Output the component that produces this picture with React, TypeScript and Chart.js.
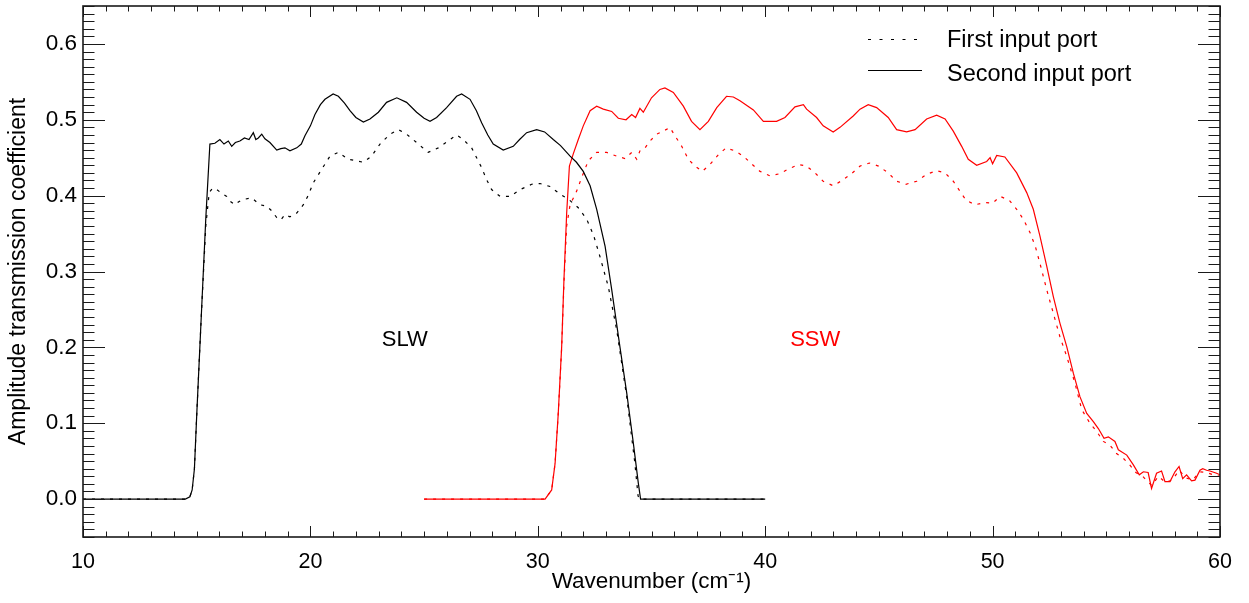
import React, { useEffect, useRef } from "react";
import { Chart, registerables } from "chart.js";

Chart.register(...registerables);

const FONT = "'Liberation Sans', Arial, Helvetica, sans-serif";

// SLW, second input port (solid black)
const slwSecondX = [
  10, 12, 14, 14.5, 14.7, 14.8, 14.9, 15.0, 15.2, 15.4,
  15.58, 15.8, 16.02, 16.2, 16.39, 16.54, 16.7, 16.9, 17.1, 17.3,
  17.49, 17.6, 17.71, 17.86, 18.0, 18.22, 18.52, 18.7, 18.88, 19.1,
  19.4, 19.6, 19.76, 20.0, 20.2, 20.44, 20.64, 21.0, 21.23, 21.5,
  21.74, 22.0, 22.33, 22.62, 22.99, 23.35, 23.8, 24.23, 24.67, 25.0,
  25.26, 25.55, 25.99, 26.43, 26.65, 27.02, 27.3, 27.53, 27.8, 28.04,
  28.48, 28.92, 29.2, 29.51, 29.95, 30.3, 30.68, 31.0, 31.42, 31.7,
  32.0, 32.3, 32.59, 32.96, 33.25, 33.61, 33.91, 34.2, 34.42, 34.52,
  36, 38, 40,
];
const slwSecondY = [
  0, 0, 0, 0, 0.003, 0.012, 0.04, 0.11, 0.24, 0.37,
  0.468, 0.469, 0.474, 0.468, 0.472, 0.465, 0.47, 0.472, 0.476, 0.474,
  0.483, 0.474, 0.476, 0.481, 0.475, 0.47, 0.46, 0.462, 0.463, 0.459,
  0.463, 0.468, 0.479, 0.492, 0.507, 0.52, 0.527, 0.534, 0.531, 0.522,
  0.512, 0.503, 0.497, 0.501, 0.51, 0.523, 0.529, 0.523, 0.51, 0.502,
  0.498, 0.503, 0.516, 0.531, 0.534, 0.527, 0.512, 0.496, 0.48, 0.468,
  0.46, 0.465, 0.474, 0.483, 0.487, 0.484, 0.474, 0.466, 0.452, 0.444,
  0.432, 0.413, 0.382, 0.333, 0.276, 0.201, 0.14, 0.074, 0.021, 0,
  0, 0, 0,
];

// SLW, first input port (dotted black)
const slwFirstX = [
  10, 12, 14, 14.5, 14.7, 14.8, 14.9, 15.0, 15.2, 15.4,
  15.55, 15.7, 15.88, 16.1, 16.32, 16.5, 16.68, 16.85, 17.05, 17.42,
  17.78, 18.08, 18.3, 18.52, 18.7, 18.88, 19.1, 19.4, 19.69, 19.9,
  20.13, 20.5, 20.86, 21.23, 21.67, 22.0, 22.33, 22.69, 23.06, 23.5,
  23.87, 24.23, 24.67, 25.18, 25.62, 26.06, 26.43, 26.72, 27.09, 27.31,
  27.53, 27.75, 27.97, 28.34, 28.78, 29.22, 29.73, 30.1, 30.54, 30.98,
  31.4, 31.78, 32.15, 32.45, 32.73, 33.1, 33.47, 33.91, 34.27, 34.41,
  34.5, 36, 38, 40,
];
const slwFirstY = [
  0, 0, 0, 0, 0.003, 0.012, 0.04, 0.11, 0.24, 0.36,
  0.404, 0.41, 0.408, 0.403, 0.399, 0.392, 0.388, 0.392, 0.395, 0.397,
  0.388, 0.386, 0.38, 0.371, 0.368, 0.375, 0.372, 0.377, 0.388, 0.4,
  0.417, 0.435, 0.452, 0.457, 0.448, 0.446, 0.444, 0.452, 0.468, 0.481,
  0.487, 0.481, 0.47, 0.457, 0.463, 0.472, 0.48, 0.474, 0.463, 0.45,
  0.437, 0.421, 0.408, 0.399, 0.399, 0.408, 0.415, 0.416, 0.412, 0.402,
  0.394, 0.384, 0.369, 0.348, 0.32, 0.28, 0.223, 0.135, 0.047, 0.004,
  0, 0, 0, 0,
];

// SSW, second input port (solid red)
const sswSecondX = [
  25, 28, 30, 30.32, 30.61, 30.76, 30.9, 31.05, 31.15, 31.27,
  31.39, 31.56, 31.78, 32.0, 32.3, 32.59, 32.88, 33.25, 33.54, 33.88,
  34.13, 34.3, 34.49, 34.64, 35.0, 35.37, 35.59, 35.96, 36.4, 36.76,
  37.13, 37.5, 37.87, 38.3, 38.6, 38.89, 39.48, 39.92, 40.5, 40.87,
  41.31, 41.68, 41.82, 42.26, 42.55, 42.99, 43.29, 43.87, 44.17, 44.53,
  44.9, 45.41, 45.78, 46.22, 46.59, 47.1, 47.54, 47.91, 48.27, 48.64,
  48.93, 49.3, 49.74, 49.89, 50.0, 50.18, 50.54, 51.06, 51.5, 51.79,
  52.08, 52.38, 52.67, 52.96, 53.26, 53.55, 53.84, 54.14, 54.43, 54.65,
  54.9, 55.09, 55.38, 55.53, 55.9, 56.19, 56.45, 56.63, 56.84, 56.99,
  57.21, 57.43, 57.58, 57.8, 58.02, 58.2, 58.36, 58.53, 58.75, 58.9,
  59.12, 59.24, 59.41, 59.56, 59.85, 60,
];
const sswSecondY = [
  0, 0, 0, 0, 0.012, 0.047, 0.113, 0.201, 0.289, 0.377,
  0.439, 0.455, 0.474, 0.492, 0.512, 0.518, 0.514, 0.511, 0.502, 0.5,
  0.507, 0.503, 0.515, 0.51, 0.529, 0.54, 0.542, 0.536, 0.518, 0.498,
  0.487, 0.498, 0.516, 0.531, 0.53, 0.525, 0.513, 0.498, 0.498, 0.503,
  0.517, 0.52, 0.514, 0.503, 0.492, 0.484, 0.49, 0.505, 0.514, 0.52,
  0.516, 0.503, 0.487, 0.484, 0.487, 0.501, 0.506, 0.501, 0.485, 0.465,
  0.448, 0.44, 0.445, 0.45, 0.442, 0.453, 0.451, 0.43, 0.404, 0.382,
  0.347, 0.307, 0.267, 0.232, 0.201, 0.166, 0.135, 0.113, 0.102, 0.093,
  0.08, 0.082, 0.076, 0.065, 0.058, 0.045, 0.032, 0.036, 0.035, 0.014,
  0.034, 0.037, 0.023, 0.023, 0.036, 0.043, 0.027, 0.032, 0.024, 0.025,
  0.038, 0.04, 0.038, 0.037, 0.034, 0.032,
];

// SSW, first input port (dotted red)
const sswFirstX = [
  25, 28, 30, 30.32, 30.61, 30.76, 30.9, 31.05, 31.15, 31.27,
  31.42, 31.71, 31.93, 32.22, 32.59, 33.03, 33.47, 33.83, 34.13, 34.35,
  34.49, 34.67, 34.93, 35.23, 35.52, 35.81, 36.03, 36.33, 36.62, 36.91,
  37.23, 37.57, 37.94, 38.28, 38.67, 39.04, 39.4, 39.77, 40.21, 40.65,
  41.01, 41.46, 41.82, 42.19, 42.55, 42.99, 43.43, 43.8, 44.17, 44.58,
  44.98, 45.41, 45.78, 46.19, 46.66, 47.1, 47.54, 47.91, 48.27, 48.56,
  48.83, 49.23, 49.67, 50.0, 50.33, 50.73, 51.06, 51.35, 51.65, 51.88,
  52.08, 52.38, 52.67, 52.96, 53.26, 53.62, 53.92, 54.28, 54.58, 54.87,
  55.16, 55.45, 55.74, 56.03, 56.3, 56.6, 56.99, 57.3, 57.6, 57.9,
  58.2, 58.5, 58.8, 59.1, 59.4, 59.7, 60,
];
const sswFirstY = [
  0, 0, 0, 0, 0.012, 0.047, 0.113, 0.2, 0.285, 0.36,
  0.388, 0.406, 0.424, 0.446, 0.457, 0.457, 0.452, 0.449, 0.457, 0.448,
  0.459, 0.461, 0.472, 0.481, 0.485, 0.49, 0.479, 0.465, 0.448, 0.439,
  0.432, 0.441, 0.454, 0.463, 0.459, 0.452, 0.442, 0.432, 0.426, 0.429,
  0.435, 0.441, 0.439, 0.43, 0.419, 0.413, 0.421, 0.429, 0.439, 0.443,
  0.439, 0.43, 0.419, 0.415, 0.419, 0.428, 0.433, 0.43, 0.419, 0.406,
  0.394, 0.388, 0.391, 0.39, 0.399, 0.394, 0.382, 0.369, 0.351, 0.333,
  0.311, 0.276, 0.245, 0.214, 0.188, 0.153, 0.118, 0.1, 0.089, 0.076,
  0.071, 0.06, 0.054, 0.045, 0.035, 0.03, 0.018, 0.03, 0.022, 0.025,
  0.038, 0.028, 0.025, 0.036, 0.035, 0.032, 0.03,
];

const xTickValues = [10, 20, 30, 40, 50, 60];
const yTickValues = [0, 0.1, 0.2, 0.3, 0.4, 0.5, 0.6];
const legendLabels = ["First input port", "Second input port"];
const bandNames = ["SLW", "SSW"];
const bandCentersX = [24.15, 42.2];
const bandCentersY = [0.21, 0.21];
const bandColors = ["#000000", "#ff0000"];

const toPoints = (xs: number[], ys: number[]) => xs.map((x, i) => ({ x, y: ys[i] }));

const idlFrame = {
  id: "idlFrame",
  afterDraw(chart: any) {
    const { ctx, chartArea: a, scales } = chart;
    const xs = scales.x;
    const ys = scales.y;
    ctx.save();
    ctx.strokeStyle = "#1a1a1a";
    ctx.lineWidth = 1;
    ctx.beginPath();
    for (let v = 10; v <= 60; v += 1) {
      const px = Math.round(xs.getPixelForValue(v)) + 0.5;
      const len = v % 10 === 0 ? 11 : 5.5;
      ctx.moveTo(px, a.bottom);
      ctx.lineTo(px, a.bottom - len);
      ctx.moveTo(px, a.top);
      ctx.lineTo(px, a.top + len);
    }
    for (let i = -5; i <= 65; i += 1) {
      const py = Math.round(ys.getPixelForValue(i / 100)) + 0.5;
      const len = i % 10 === 0 ? 22 : 11.5;
      ctx.moveTo(a.left, py);
      ctx.lineTo(a.left + len, py);
      ctx.moveTo(a.right, py);
      ctx.lineTo(a.right - len, py);
    }
    ctx.stroke();
    ctx.lineWidth = 1.6;
    ctx.strokeRect(a.left, a.top, a.right - a.left, a.bottom - a.top);

    // legend
    ctx.lineWidth = 1.2;
    ctx.strokeStyle = "#000";
    ctx.setLineDash([3, 8.5]);
    ctx.beginPath();
    ctx.moveTo(868, 39.5);
    ctx.lineTo(922, 39.5);
    ctx.stroke();
    ctx.setLineDash([]);
    ctx.beginPath();
    ctx.moveTo(868, 70.5);
    ctx.lineTo(922, 70.5);
    ctx.stroke();
    ctx.fillStyle = "#000";
    ctx.font = `23.5px ${FONT}`;
    ctx.textAlign = "left";
    ctx.textBaseline = "alphabetic";
    ctx.fillText(legendLabels[0], 947, 46.5);
    ctx.fillText(legendLabels[1], 947, 81);

    // band labels
    ctx.font = `22px ${FONT}`;
    ctx.textAlign = "center";
    ctx.textBaseline = "middle";
    bandNames.forEach((name, i) => {
      ctx.fillStyle = bandColors[i];
      ctx.fillText(name, xs.getPixelForValue(bandCentersX[i]), ys.getPixelForValue(bandCentersY[i]));
    });
    ctx.restore();
  },
};

export default function App() {
  const ref = useRef<HTMLCanvasElement | null>(null);
  useEffect(() => {
    if (!ref.current) return;
    const lineBase = { pointRadius: 0, borderWidth: 1.2, tension: 0, fill: false };
    const chart = new Chart(ref.current, {
      type: "line",
      data: {
        datasets: [
          { ...lineBase, label: "SLW first", data: toPoints(slwFirstX, slwFirstY), borderColor: "#000", borderDash: [3, 6] },
          { ...lineBase, label: "SLW second", data: toPoints(slwSecondX, slwSecondY), borderColor: "#000" },
          { ...lineBase, label: "SSW first", data: toPoints(sswFirstX, sswFirstY), borderColor: "#ff0000", borderDash: [3, 6] },
          { ...lineBase, label: "SSW second", data: toPoints(sswSecondX, sswSecondY), borderColor: "#ff0000" },
        ],
      },
      options: {
        responsive: false,
        animation: false,
        layout: { padding: { top: 6, right: 29, left: 0, bottom: 0 } },
        plugins: { legend: { display: false }, tooltip: { enabled: false } },
        scales: {
          x: {
            type: "linear",
            min: 10,
            max: 60,
            grid: { display: false, drawTicks: false },
            border: { display: false },
            ticks: {
              font: { family: FONT, size: 21.5 },
              color: "#000",
              padding: 12,
              maxRotation: 0,
              callback: (v: any) => String(v),
            },
            afterBuildTicks: (s: any) => {
              s.ticks = xTickValues.map((v) => ({ value: v }));
            },
            afterFit: (s: any) => {
              s.height = 66;
              s.paddingLeft = 0;
              s.paddingRight = 0;
            },
            title: {
              display: true,
              text: "Wavenumber (cm⁻¹)",
              font: { family: FONT, size: 22.5 },
              color: "#000",
              padding: { top: 8, bottom: 8 },
            },
          },
          y: {
            type: "linear",
            min: -0.05,
            max: 0.65,
            grid: { display: false, drawTicks: false },
            border: { display: false },
            ticks: {
              font: { family: FONT, size: 22.5 },
              color: "#000",
              padding: 6,
              callback: (v: any) => Number(v).toFixed(1),
            },
            afterBuildTicks: (s: any) => {
              s.ticks = yTickValues.map((v) => ({ value: v }));
            },
            afterFit: (s: any) => {
              s.width = 83;
              s.paddingTop = 0;
              s.paddingBottom = 0;
            },
            title: {
              display: true,
              text: "Amplitude transmission coefficient",
              font: { family: FONT, size: 23 },
              color: "#000",
              padding: { top: 5, bottom: 5 },
            },
          },
        },
      },
      plugins: [idlFrame],
    });
    return () => chart.destroy();
  }, []);
  return (
    <div style={{ position: "fixed", left: 0, top: 0, width: 1249, height: 603, background: "#fff" }}>
      <canvas ref={ref} width={1249} height={603} style={{ display: "block" }} />
    </div>
  );
}
